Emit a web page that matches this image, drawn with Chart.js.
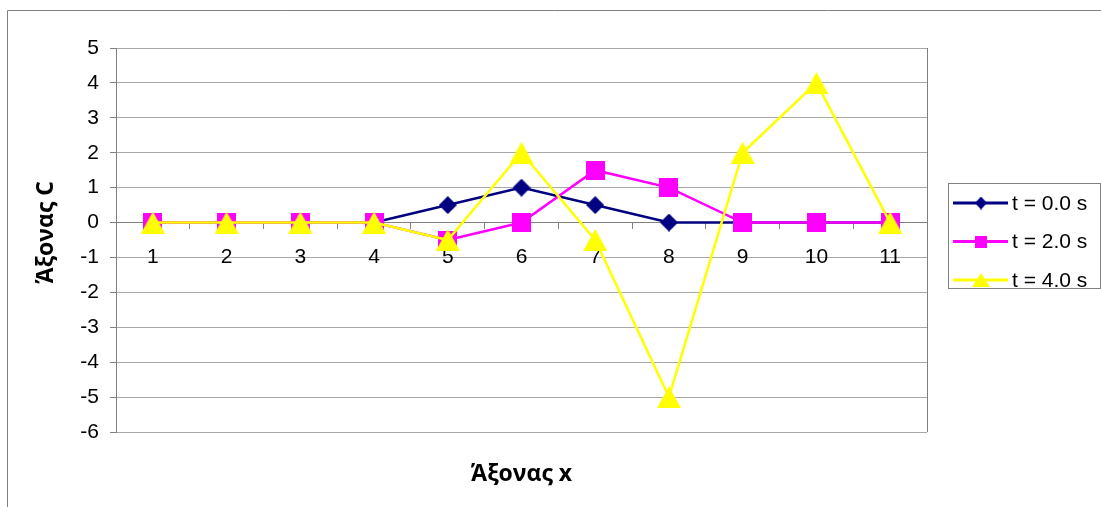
<!DOCTYPE html>
<html>
<head>
<meta charset="utf-8">
<style>
  html, body { margin: 0; padding: 0; background: #ffffff; }
  #wrap { width: 1101px; height: 507px; position: relative; }
</style>
<script src="https://cdn.jsdelivr.net/npm/chart.js@4.4.1/dist/chart.umd.min.js"></script>
</head>
<body>
<div id="wrap"><canvas id="chart" width="1101" height="507"></canvas></div>
<script>
// Category positions along the x axis
const categories = ['1', '2', '3', '4', '5', '6', '7', '8', '9', '10', '11'];

// Displacement C at each position for three moments in time
const seriesT0 = [0, 0, 0, 0, 0.5, 1, 0.5, 0, 0, 0, 0];
const seriesT2 = [0, 0, 0, 0, -0.5, 0, 1.5, 1, 0, 0, 0];
const seriesT4 = [0, 0, 0, 0, -0.5, 2, -0.5, -5, 2, 4, 0];

const seriesLabels = ['t = 0.0 s', 't = 2.0 s', 't = 4.0 s'];
const yTickRange = [-6, 5];
const yTickStep = 1;
const xAxisTitle = 'Άξονας x';
const yAxisTitle = 'Άξονας C';

const NAVY = '#000080', MAGENTA = '#ff00ff', YELLOW = '#ffff00';
const GRID = '#a8a8a8', AXIS = '#808080';
const FONT = '"Liberation Sans", Arial, sans-serif';
const TITLE_FONT = 'bold 23px "Open Sans", sans-serif';

// Small bitmap markers, centred on their bounding box
function marker(shape, w, h, color) {
  const c = document.createElement('canvas');
  c.width = w; c.height = h;
  const g = c.getContext('2d');
  g.fillStyle = color;
  g.beginPath();
  if (shape === 'diamond') {
    g.moveTo(w / 2, 0); g.lineTo(w, h / 2); g.lineTo(w / 2, h); g.lineTo(0, h / 2);
  } else if (shape === 'square') {
    g.rect(0, 0, w, h);
  } else {
    g.moveTo(w / 2, 0); g.lineTo(w, h); g.lineTo(0, h);
  }
  g.closePath();
  g.fill();
  return c;
}

const markers = [
  marker('diamond', 18, 18, NAVY),
  marker('square', 19, 19, MAGENTA),
  marker('triangle', 24, 22, YELLOW)
];
const legendMarkers = [
  marker('diamond', 12, 13, NAVY),
  marker('square', 12, 12, MAGENTA),
  marker('triangle', 18, 14, YELLOW)
];
const colors = [NAVY, MAGENTA, YELLOW];

// Outer frame, axis titles and the boxed legend
const decorations = {
  id: 'decorations',
  beforeDraw(chart) {
    const ctx = chart.ctx;
    ctx.save();
    ctx.strokeStyle = AXIS;
    ctx.lineWidth = 1;
    ctx.beginPath();
    ctx.moveTo(7.5, chart.height + 2);
    ctx.lineTo(7.5, 10.5);
    ctx.lineTo(chart.width + 2, 10.5);
    ctx.stroke();
    ctx.restore();
  },
  afterDraw(chart) {
    const ctx = chart.ctx;
    const a = chart.chartArea;
    ctx.save();
    // plot-area frame on the right side
    ctx.strokeStyle = AXIS;
    ctx.lineWidth = 1;
    ctx.beginPath();
    ctx.moveTo(Math.round(a.right) + 0.5, a.top);
    ctx.lineTo(Math.round(a.right) + 0.5, a.bottom);
    ctx.stroke();

    // axis titles
    ctx.fillStyle = '#000000';
    ctx.font = TITLE_FONT;
    ctx.textAlign = 'center';
    ctx.textBaseline = 'middle';
    ctx.fillText(xAxisTitle, (a.left + a.right) / 2, a.bottom + 42);
    ctx.save();
    ctx.translate(a.left - 70, a.top + (a.bottom - a.top) * 0.48);
    ctx.rotate(-Math.PI / 2);
    ctx.fillText(yAxisTitle, 0, 0);
    ctx.restore();

    // legend
    const bx = Math.round(a.right) + 21, by = 183, bw = 152, bh = 105;
    ctx.strokeStyle = AXIS;
    ctx.lineWidth = 1;
    ctx.strokeRect(bx + 0.5, by + 0.5, bw, bh);
    ctx.font = '21px ' + FONT;
    ctx.textAlign = 'left';
    ctx.textBaseline = 'middle';
    chart.data.datasets.forEach((ds, i) => {
      const y = by + 20 + i * 38.5;
      ctx.strokeStyle = colors[i];
      ctx.lineWidth = 3;
      ctx.beginPath();
      ctx.moveTo(bx + 5, y);
      ctx.lineTo(bx + 60, y);
      ctx.stroke();
      const m = legendMarkers[i];
      ctx.drawImage(m, bx + 33 - m.width / 2, y - m.height / 2);
      ctx.fillStyle = '#000000';
      ctx.fillText(ds.label, bx + 64, y + 1);
    });
    ctx.restore();
  }
};

const seriesValues = [seriesT0, seriesT2, seriesT4];

new Chart(document.getElementById('chart'), {
  type: 'line',
  data: {
    labels: categories,
    datasets: seriesValues.map((vals, i) => ({
      label: seriesLabels[i],
      data: vals,
      borderColor: colors[i],
      backgroundColor: colors[i],
      borderWidth: 2.5,
      pointStyle: markers[i],
      pointRadius: 6,
      pointHoverRadius: 6,
      tension: 0,
      fill: false,
      order: 3 - i
    }))
  },
  options: {
    responsive: false,
    animation: false,
    devicePixelRatio: 1,
    layout: { padding: { top: 48, right: 174, bottom: 75, left: 0 } },
    plugins: {
      legend: { display: false },
      tooltip: { enabled: false },
      title: { display: false }
    },
    scales: {
      x: {
        type: 'category',
        position: { y: 0 },
        offset: true,
        afterFit(scale) { scale.height = 0; },
        border: { display: true, color: AXIS, width: 1 },
        grid: {
          drawOnChartArea: false,
          drawTicks: true,
          tickLength: 6,
          offset: true,
          color: AXIS
        },
        ticks: {
          color: '#000000',
          font: { family: FONT, size: 21 },
          padding: 16,
          maxRotation: 0,
          autoSkip: false
        }
      },
      y: {
        min: yTickRange[0],
        max: yTickRange[1],
        afterFit(scale) { scale.width = 116; },
        border: { display: true, color: AXIS, width: 1 },
        grid: {
          color: GRID,
          drawTicks: true,
          tickLength: 6,
          tickColor: AXIS
        },
        ticks: {
          stepSize: yTickStep,
          color: '#000000',
          font: { family: FONT, size: 21 },
          padding: 11
        }
      }
    }
  },
  plugins: [decorations]
});
</script>
</body>
</html>
